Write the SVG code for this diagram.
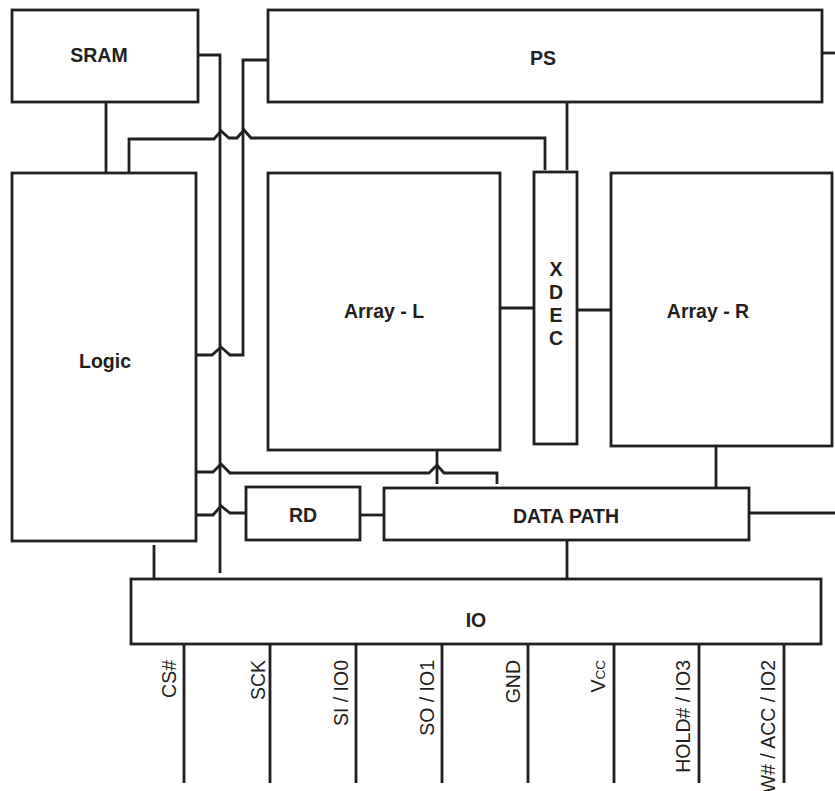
<svg xmlns="http://www.w3.org/2000/svg" width="835" height="791" viewBox="0 0 835 791">
<style>
.box{fill:#fff;stroke:#231f20;stroke-width:2.8}
.w{fill:none;stroke:#231f20;stroke-width:2.8;stroke-linejoin:miter}
.lb{font-family:"Liberation Sans",Arial,sans-serif;font-weight:bold;font-size:19.5px;fill:#231f20;text-anchor:middle}
.pin{font-family:"Liberation Sans",Arial,sans-serif;font-size:19.5px;fill:#231f20;text-anchor:end}
</style>
<rect width="835" height="791" fill="#fff"/>
<g id="connectors">
<path class="w" d="M198 55 H220 V573"/>
<path class="w" d="M268 60 H243 V355 H230 L221 347 L212 355 H197"/>
<path class="w" d="M129 173 V139 H214 L221 131 L229 138 H237 L244 130 L251 138 H545 V170"/>
<path class="w" d="M567 102 V170"/>
<path class="w" d="M106 102 V173"/>
<path class="w" d="M500 308 H534"/>
<path class="w" d="M577 310 H611"/>
<path class="w" d="M197 472 H213 L221 464 L230 473 H429 L437 465 L444 473 H497 V484"/>
<path class="w" d="M437 450 V484"/>
<path class="w" d="M197 515 H213 L221 506 L230 513 H246"/>
<path class="w" d="M360 515 H384"/>
<path class="w" d="M716 446 V488"/>
<path class="w" d="M749 513 H835"/>
<path class="w" d="M822 53 H835"/>
<path class="w" d="M154 545 V579"/>
<path class="w" d="M567 540 V579"/>
<path class="w" d="M184 644 V783 M270 644 V783 M356 644 V783 M442 644 V783 M528 644 V783 M614 644 V783 M699 644 V783 M784 644 V783"/>
</g>
<g id="sram"><rect class="box" x="12" y="10" width="186" height="92"/><text class="lb" x="99" y="62">SRAM</text></g>
<g id="ps"><rect class="box" x="268" y="10" width="554" height="92"/><text class="lb" x="543" y="65">PS</text></g>
<g id="logic"><rect class="box" x="12" y="173" width="184" height="368"/><text class="lb" x="105" y="368">Logic</text></g>
<g id="array-l"><rect class="box" x="268" y="173" width="232" height="277"/><text class="lb" x="384" y="318">Array - L</text></g>
<g id="xdec"><rect class="box" x="534" y="172" width="43" height="272"/>
<text class="lb" x="556" y="276">X</text><text class="lb" x="556" y="299">D</text><text class="lb" x="556" y="322">E</text><text class="lb" x="556" y="345">C</text></g>
<g id="array-r"><rect class="box" x="611" y="173" width="221" height="273"/><text class="lb" x="708" y="318">Array - R</text></g>
<g id="rd"><rect class="box" x="246" y="487" width="114" height="53"/><text class="lb" x="303" y="522">RD</text></g>
<g id="datapath"><rect class="box" x="384" y="488" width="365" height="52"/><text class="lb" x="566" y="523">DATA PATH</text></g>
<g id="io"><rect class="box" x="131" y="579" width="690" height="65"/><text class="lb" x="476" y="627">IO</text></g>
<g id="pins">
<text class="pin" transform="translate(176 660) rotate(-90)">CS#</text>
<text class="pin" transform="translate(265 660) rotate(-90)">SCK</text>
<text class="pin" transform="translate(348 660) rotate(-90)">SI / IO0</text>
<text class="pin" transform="translate(434 660) rotate(-90)">SO / IO1</text>
<text class="pin" transform="translate(520 660) rotate(-90)">GND</text>
<text class="pin" transform="translate(605 660) rotate(-90)">V<tspan font-size="13.5">CC</tspan></text>
<text class="pin" transform="translate(690 660) rotate(-90)">HOLD# / IO3</text>
<text class="pin" transform="translate(775 660) rotate(-90)">W# / ACC / IO2</text>
</g>
</svg>
